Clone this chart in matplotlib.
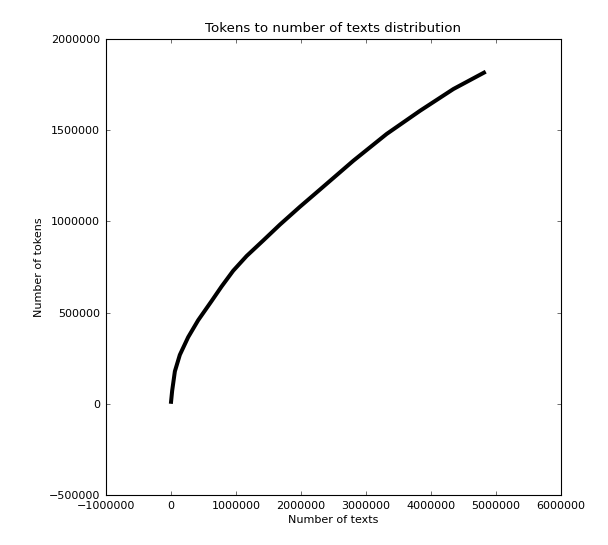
import numpy as np
import matplotlib
matplotlib.use("Agg")
import matplotlib.pyplot as plt
from matplotlib.ticker import FuncFormatter

# values
texts = [0, 20000, 62000, 138000, 266000, 420000, 626000, 780000, 958000,
         1165000, 1420000, 1677000, 1985000, 2292000, 2805000, 3318000,
         3831000, 4343000, 4840000]
tokens = [0, 71000, 178000, 268000, 365000, 458000, 563000, 643000, 729000,
          810000, 895000, 982000, 1080000, 1174000, 1332000, 1479000,
          1606000, 1725000, 1820000]

x_ticks = [-1000000, 0, 1000000, 2000000, 3000000, 4000000, 5000000, 6000000]
y_ticks = [-500000, 0, 500000, 1000000, 1500000, 2000000]

plt.rcParams["font.family"] = "DejaVu Sans"
plt.rcParams["font.size"] = 10

fig = plt.figure(figsize=(7.6, 6.8125), dpi=80, facecolor="white")
ax = fig.add_axes([0.174, 0.0917, 0.749, 0.837])

ax.plot(texts, tokens, color="black", linewidth=3.6, solid_capstyle="butt",
        solid_joinstyle="round")

fmt = FuncFormatter(lambda v, p: ("%d" % v).replace("-", "\u2212"))
ax.set_xlim(-1000000, 6000000)
ax.set_ylim(-500000, 2000000)
ax.set_xticks(x_ticks)
ax.set_yticks(y_ticks)
ax.xaxis.set_major_formatter(fmt)
ax.yaxis.set_major_formatter(fmt)
ax.tick_params(direction="in", top=True, right=True, length=4, width=0.5,
               labelsize=10, pad=5, colors="black")
for s in ax.spines.values():
    s.set_linewidth(1.0)

ax.set_title("Tokens to number of texts distribution", fontsize=12)
ax.set_xlabel("Number of texts", fontsize=10)
ax.set_ylabel("Number of tokens", fontsize=10)

fig.savefig("out.png", dpi=80, facecolor="white")
